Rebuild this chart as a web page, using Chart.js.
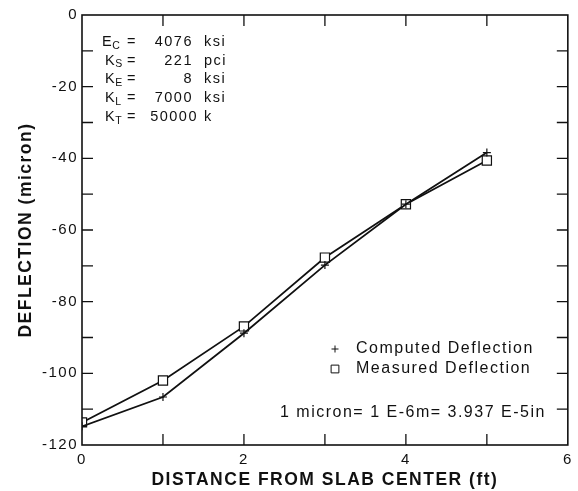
<!DOCTYPE html>
<html>
<head>
<meta charset="utf-8">
<script src="https://cdn.jsdelivr.net/npm/chart.js@4/dist/chart.umd.min.js"></script>
<style>
  html, body { margin: 0; padding: 0; background: #fff; }
  #wrap { width: 578px; height: 491px; }
</style>
</head>
<body>
<div id="wrap"><canvas id="c" width="578" height="491"></canvas></div>
<script>
// ---- data ----
const distances = [0, 1, 2, 3, 4, 5];                              // ft
const computedDeflection = [-114.8, -106.6, -88.8, -69.8, -52.8, -38.4];
const measuredDeflection = [-113.7, -102.0, -86.9, -67.7, -52.8, -40.6];
const seriesLabels = ['Computed Deflection', 'Measured Deflection'];
const xTitle = 'DISTANCE FROM SLAB CENTER (ft)';
const yTitle = 'DEFLECTION (micron)';
const paramNames = ['E', 'K', 'K', 'K', 'K'];
const paramSubs = ['C', 'S', 'E', 'L', 'T'];
const paramValues = ['4076', '221', '8', '7000', '50000'];
const paramUnits = ['ksi', 'pci', 'ksi', 'ksi', 'k'];
const conversionNote = '1 micron= 1 E-6m= 3.937 E-5in';

const INK = '#111';
const FONT = "'Liberation Sans', Arial, sans-serif";

const spacingPlugin = {
  id: 'spacing',
  beforeDraw(chart) { chart.ctx.letterSpacing = '1.5px'; }
};

const framePlugin = {
  id: 'frame',
  afterDatasetsDraw(chart) {
    const { ctx, chartArea: a, scales } = chart;
    ctx.save();
    ctx.strokeStyle = INK;
    ctx.lineWidth = 1.6;
    ctx.strokeRect(a.left, a.top, a.right - a.left, a.bottom - a.top);
    ctx.lineWidth = 1.3;
    const len = 11;
    ctx.beginPath();
    scales.x.ticks.forEach(t => {
      if (t.value <= scales.x.min || t.value >= scales.x.max) return;
      const px = scales.x.getPixelForValue(t.value);
      ctx.moveTo(px, a.bottom); ctx.lineTo(px, a.bottom - len);
      ctx.moveTo(px, a.top); ctx.lineTo(px, a.top + len);
    });
    scales.y.ticks.forEach(t => {
      if (t.value <= scales.y.min || t.value >= scales.y.max) return;
      const py = scales.y.getPixelForValue(t.value);
      ctx.moveTo(a.left, py); ctx.lineTo(a.left + len, py);
      ctx.moveTo(a.right, py); ctx.lineTo(a.right - len, py);
    });
    ctx.stroke();
    ctx.restore();
  },
  afterDraw(chart) {
    const { ctx } = chart;
    ctx.save();
    ctx.fillStyle = INK;
    ctx.letterSpacing = '1.5px';
    ctx.textBaseline = 'middle';
    // parameter block
    const rows = [42, 60.5, 79, 98, 117];
    rows.forEach((y, i) => {
      const x0 = i === 0 ? 102 : 105;
      ctx.font = '14.5px ' + FONT;
      ctx.textAlign = 'left';
      ctx.fillText(paramNames[i], x0, y);
      const w = ctx.measureText(paramNames[i]).width;
      ctx.font = '10.5px ' + FONT;
      ctx.fillText(paramSubs[i], x0 + w - 1, y + 4);
      ctx.font = '14.5px ' + FONT;
      ctx.fillText('=', 127, y);
      ctx.textAlign = 'right';
      ctx.fillText(paramValues[i], i === 4 ? 198 : 193, y);
      ctx.textAlign = 'left';
      ctx.fillText(paramUnits[i], 204, y);
    });
    // legend
    const ds = chart.data.datasets;
    const legY = [349, 369];
    ds.forEach((d, i) => {
      ctx.strokeStyle = INK;
      ctx.fillStyle = i === 0 ? INK : '#fff';
      Chart.helpers.drawPoint(ctx, {
        pointStyle: d.pointStyle, radius: i === 0 ? 3.5 : 5.5,
        borderWidth: 1.2
      }, 335, legY[i]);
      ctx.fillStyle = INK;
      ctx.font = '16px ' + FONT;
      ctx.textAlign = 'left';
      ctx.fillText(d.label, 356, legY[i]);
    });
    ctx.font = '16px ' + FONT;
    ctx.textAlign = 'left';
    ctx.fillText(conversionNote, 280, 413);
    ctx.restore();
  }
};

const chart = new Chart(document.getElementById('c'), {
  type: 'line',
  data: {
    datasets: [
      {
        label: seriesLabels[0],
        data: distances.map((x, i) => ({ x, y: computedDeflection[i] })),
        borderColor: INK, backgroundColor: INK,
        borderWidth: 1.8, pointStyle: 'cross', pointRadius: 4,
        pointBorderWidth: 1.2, pointBorderColor: INK, tension: 0
      },
      {
        label: seriesLabels[1],
        data: distances.map((x, i) => ({ x, y: measuredDeflection[i] })),
        borderColor: INK, backgroundColor: '#fff',
        borderWidth: 1.8, pointStyle: 'rect', pointRadius: 6.5,
        pointBorderWidth: 1.2, pointBorderColor: INK, pointBackgroundColor: '#fff', tension: 0
      }
    ]
  },
  options: {
    responsive: false,
    animation: false,
    layout: { padding: { top: 15, right: 10, left: 0, bottom: 0 } },
    plugins: { legend: { display: false }, tooltip: { enabled: false } },
    scales: {
      x: {
        type: 'linear', min: 0, max: 6,
        grid: { display: false, drawTicks: false },
        border: { display: false },
        ticks: {
          stepSize: 1, padding: 6, color: INK,
          font: { family: FONT, size: 15 },
          maxRotation: 0,
          callback: v => (v % 2 === 0 ? String(v) : '')
        },
        title: {
          display: true, text: xTitle, color: INK,
          font: { family: FONT, size: 17.5, weight: 'bold' },
          padding: { top: 0, bottom: 0 }
        },
        afterFit: s => { s.height = 46; }
      },
      y: {
        min: -120, max: 0,
        grid: { display: false, drawTicks: false },
        border: { display: false },
        ticks: {
          stepSize: 10, padding: 4, color: INK,
          font: { family: FONT, size: 15 },
          callback: v => (v % 20 === 0 ? String(v) : '')
        },
        title: {
          display: true, text: yTitle, color: INK,
          font: { family: FONT, size: 17.5, weight: 'bold' },
          padding: { top: 16, bottom: 0 }
        },
        afterFit: s => { s.width = 82; }
      }
    }
  },
  plugins: [spacingPlugin, framePlugin]
});
</script>
</body>
</html>
